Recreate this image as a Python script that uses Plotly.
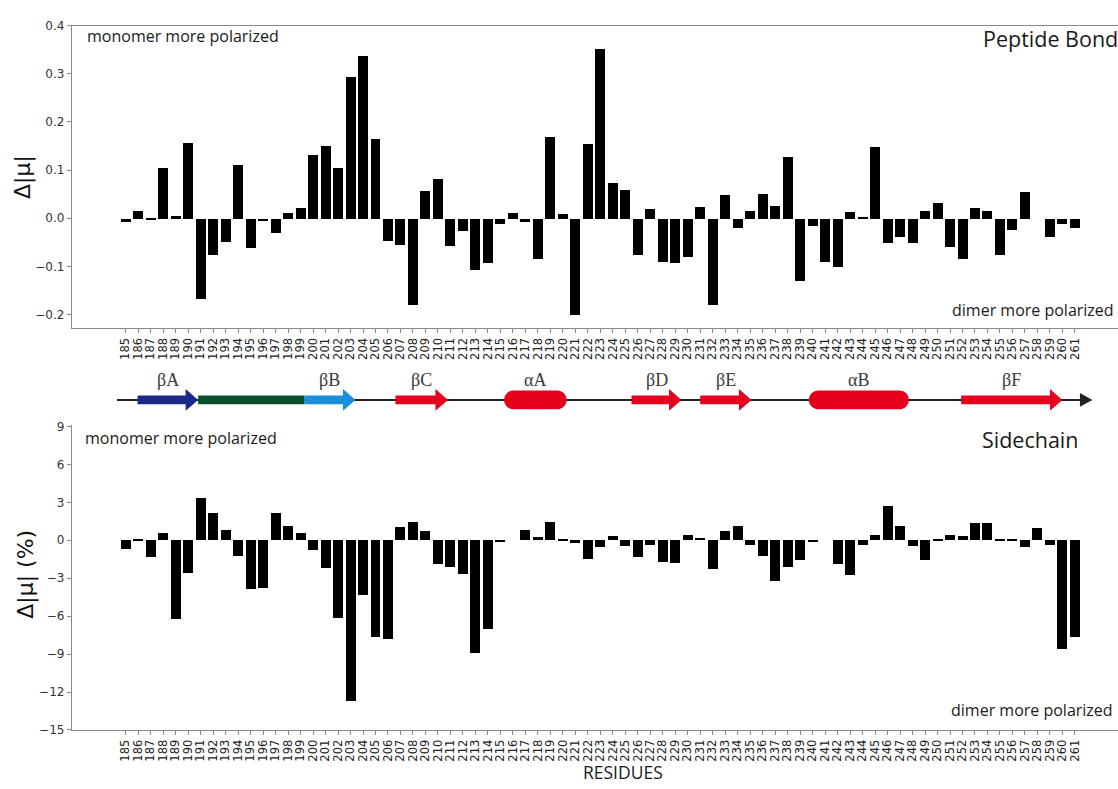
import plotly.graph_objects as go

# Residue numbering along the chain
residues = list(range(185, 262))

# Change in peptide-bond dipole magnitude, monomer minus dimer
peptide_bond = [
    -0.007, 0.016, -0.003, 0.105, 0.005, 0.156, -0.167, -0.075, -0.049, 0.112,
    -0.061, -0.005, -0.031, 0.012, 0.022, 0.131, 0.150, 0.105, 0.295, 0.337,
    0.166, -0.046, -0.054, -0.180, 0.058, 0.083, -0.057, -0.026, -0.107, -0.092,
    -0.011, 0.012, -0.007, -0.085, 0.169, 0.010, -0.200, 0.154, 0.352, 0.073,
    0.060, -0.075, 0.020, -0.090, -0.093, -0.079, 0.024, -0.180, 0.049, -0.020,
    0.015, 0.050, 0.026, 0.127, -0.130, -0.015, -0.090, -0.101, 0.014, 0.004,
    0.148, -0.050, -0.039, -0.050, 0.016, 0.033, -0.059, -0.085, 0.022, 0.016,
    -0.075, -0.023, 0.055, 0.0, -0.039, -0.011, -0.020,
]

# Change in sidechain dipole magnitude (%)
sidechain = [
    -0.70, -0.05, -1.33, 0.55, -6.26, -2.63, 3.34, 2.11, 0.78, -1.30,
    -3.91, -3.81, 2.11, 1.10, 0.52, -0.78, -2.24, -6.18, -12.71, -4.36,
    -7.70, -7.85, 1.02, 1.41, 0.70, -1.90, -2.17, -2.74, -8.97, -7.04,
    -0.21, 0.0, 0.76, 0.23, 1.38, -0.05, -0.29, -1.51, -0.60, 0.34,
    -0.47, -1.36, -0.37, -1.75, -1.83, 0.42, 0.18, -2.32, 0.70, 1.12,
    -0.44, -1.25, -3.26, -2.17, -1.59, -0.21, 0.0, -1.90, -2.82, -0.39,
    0.37, 2.69, 1.10, -0.47, -1.59, -0.05, 0.37, 0.31, 1.36, 1.36,
    -0.10, -0.10, -0.57, 0.94, -0.39, -8.61, -7.70,
]

# Secondary-structure elements: (label, kind, first residue, last residue, colour)
ss_elements = [
    ("βA", "strand", 185.95, 190.8, "#1b2a86"),
    ("", "bar", 190.8, 199.3, "#0a4e2a"),
    ("βB", "strand", 199.3, 203.4, "#1c8fda"),
    ("βC", "strand", 206.6, 210.8, "#e5001d"),
    ("αA", "helix", 215.3, 220.3, "#e5001d"),
    ("βD", "strand", 225.5, 229.5, "#e5001d"),
    ("βE", "strand", 231.0, 235.1, "#e5001d"),
    ("αB", "helix", 239.7, 247.7, "#e5001d"),
    ("βF", "strand", 251.9, 260.0, "#e5001d"),
]
chain_span = (184.3, 262.4)

top_ticks = [0.4, 0.3, 0.2, 0.1, 0.0, -0.1, -0.2]
bottom_ticks = [9, 6, 3, 0, -3, -6, -9, -12, -15]

# ---- layout geometry (pixels) ----
W, H = 1118, 789
LEFT = 72
XR = [180.7, 264.45]
px_per_res = (W - LEFT) / (XR[1] - XR[0])


def ydom(top_px, bot_px):
    return [(H - bot_px) / H, (H - top_px) / H]


def minus(v, fmt):
    s = fmt.format(v)
    return s.replace("-", "\u2212")


AXIS_GREY = "#8a8a8a"
TICK_FONT = dict(family="DejaVu Sans", size=12, color="#333333")
XTICK_FONT = dict(family="DejaVu Sans", size=11.5, color="#222222")

fig = go.Figure()
fig.add_trace(go.Bar(x=residues, y=peptide_bond, width=0.8, marker_color="black",
                     marker_line_width=0, xaxis="x", yaxis="y", showlegend=False))
fig.add_trace(go.Bar(x=residues, y=sidechain, width=0.8, marker_color="black",
                     marker_line_width=0, xaxis="x2", yaxis="y2", showlegend=False))

common_x = dict(range=XR, domain=[LEFT / W, 1], tickmode="array", tickvals=residues,
                ticktext=[str(r) for r in residues], tickangle=-90, tickfont=XTICK_FONT,
                ticks="outside", ticklen=4, tickcolor=AXIS_GREY, showline=True,
                linecolor=AXIS_GREY, linewidth=1.3, mirror=True, showgrid=False,
                zeroline=False)
common_y = dict(ticks="outside", ticklen=4, tickcolor=AXIS_GREY, showline=True,
                linecolor=AXIS_GREY, linewidth=1.3, showgrid=False, zeroline=False,
                tickfont=TICK_FONT, tickmode="array")

fig.update_layout(
    width=W, height=H, margin=dict(l=0, r=0, t=0, b=0),
    paper_bgcolor="white", plot_bgcolor="white", bargap=0,
    xaxis=dict(anchor="y", **common_x),
    yaxis=dict(anchor="x", domain=ydom(19, 327), range=[-0.2286, 0.4],
               tickvals=top_ticks, ticktext=[minus(v, "{:.1f}") for v in top_ticks],
               **common_y),
    xaxis2=dict(anchor="y2", **common_x),
    yaxis2=dict(anchor="x2", domain=ydom(427, 736), range=[-15, 9],
                tickvals=bottom_ticks, ticktext=[minus(v, "{:d}") for v in bottom_ticks],
                **common_y),
    # invisible axes carrying the secondary-structure diagram (1 y unit = 1 px)
    xaxis3=dict(anchor="y3", range=XR, domain=[LEFT / W, 1], visible=False),
    yaxis3=dict(anchor="x3", domain=ydom(360, 440), range=[-40, 40], visible=False),
)

# ---- secondary-structure diagram ----
shapes = []
line_end = chain_span[1] - 1.0
shapes.append(dict(type="line", xref="x3", yref="y3", x0=chain_span[0], x1=line_end,
                   y0=0, y1=0, line=dict(color="#222222", width=2), layer="above"))
shapes.append(dict(type="path", xref="x3", yref="y3", layer="above",
                   path=f"M {line_end},-7 L {chain_span[1]},0 L {line_end},7 Z",
                   fillcolor="#222222", line=dict(width=0)))

HB, HH, HL = 4.5, 11.0, 1.0   # strand body half-height, head half-height, head length
R = 9.5                       # helix half-height
K = 0.5523
for label, kind, s, e, col in ss_elements:
    if kind == "strand":
        p = (f"M {s},{-HB} L {e-HL},{-HB} L {e-HL},{-HH} L {e},0 L {e-HL},{HH} "
             f"L {e-HL},{HB} L {s},{HB} Z")
    elif kind == "bar":
        p = f"M {s},{-HB} L {e},{-HB} L {e},{HB} L {s},{HB} Z"
    else:
        rx = R / px_per_res
        p = (f"M {s+rx},{-R} L {e-rx},{-R} "
             f"C {e-rx+K*rx},{-R} {e},{-K*R} {e},0 "
             f"C {e},{K*R} {e-rx+K*rx},{R} {e-rx},{R} "
             f"L {s+rx},{R} "
             f"C {s+rx-K*rx},{R} {s},{K*R} {s},0 "
             f"C {s},{-K*R} {s+rx-K*rx},{-R} {s+rx},{-R} Z")
    shapes.append(dict(type="path", xref="x3", yref="y3", path=p, fillcolor=col,
                       line=dict(width=0), layer="above"))

annotations = []
for label, kind, s, e, col in ss_elements:
    if label:
        annotations.append(dict(x=(s + e) / 2, y=20, xref="x3", yref="y3", text=label,
                                showarrow=False, xanchor="center", yanchor="middle",
                                font=dict(family="Liberation Serif", size=18,
                                          color="#3a3a3a")))


def note(text, x_px, y_px, xanchor, size, family="Open Sans", angle=0, color="#1a1a1a"):
    annotations.append(dict(x=x_px / W, y=(H - y_px) / H, xref="paper", yref="paper",
                            text=text, showarrow=False, xanchor=xanchor,
                            yanchor="middle", textangle=angle,
                            font=dict(family=family, size=size, color=color)))


note("monomer more polarized", 85, 30, "left", 16)
note("Peptide Bond", 1120, 32, "right", 21.5)
note("dimer more polarized", 1116, 308, "right", 16)
note("monomer more polarized", 83, 439, "left", 16)
note("Sidechain", 1081, 440, "right", 21.5)
note("dimer more polarized", 1115, 716, "right", 16)
note("RESIDUES", 623, 779, "center", 17.5)
note("Δ|μ|", 23, 173, "center", 22, family="DejaVu Sans", angle=-90, color="#111111")
note("Δ|μ| (%)", 26, 578, "center", 22, family="DejaVu Sans", angle=-90, color="#111111")

fig.update_layout(shapes=shapes, annotations=annotations)
fig.write_html("out.html")
